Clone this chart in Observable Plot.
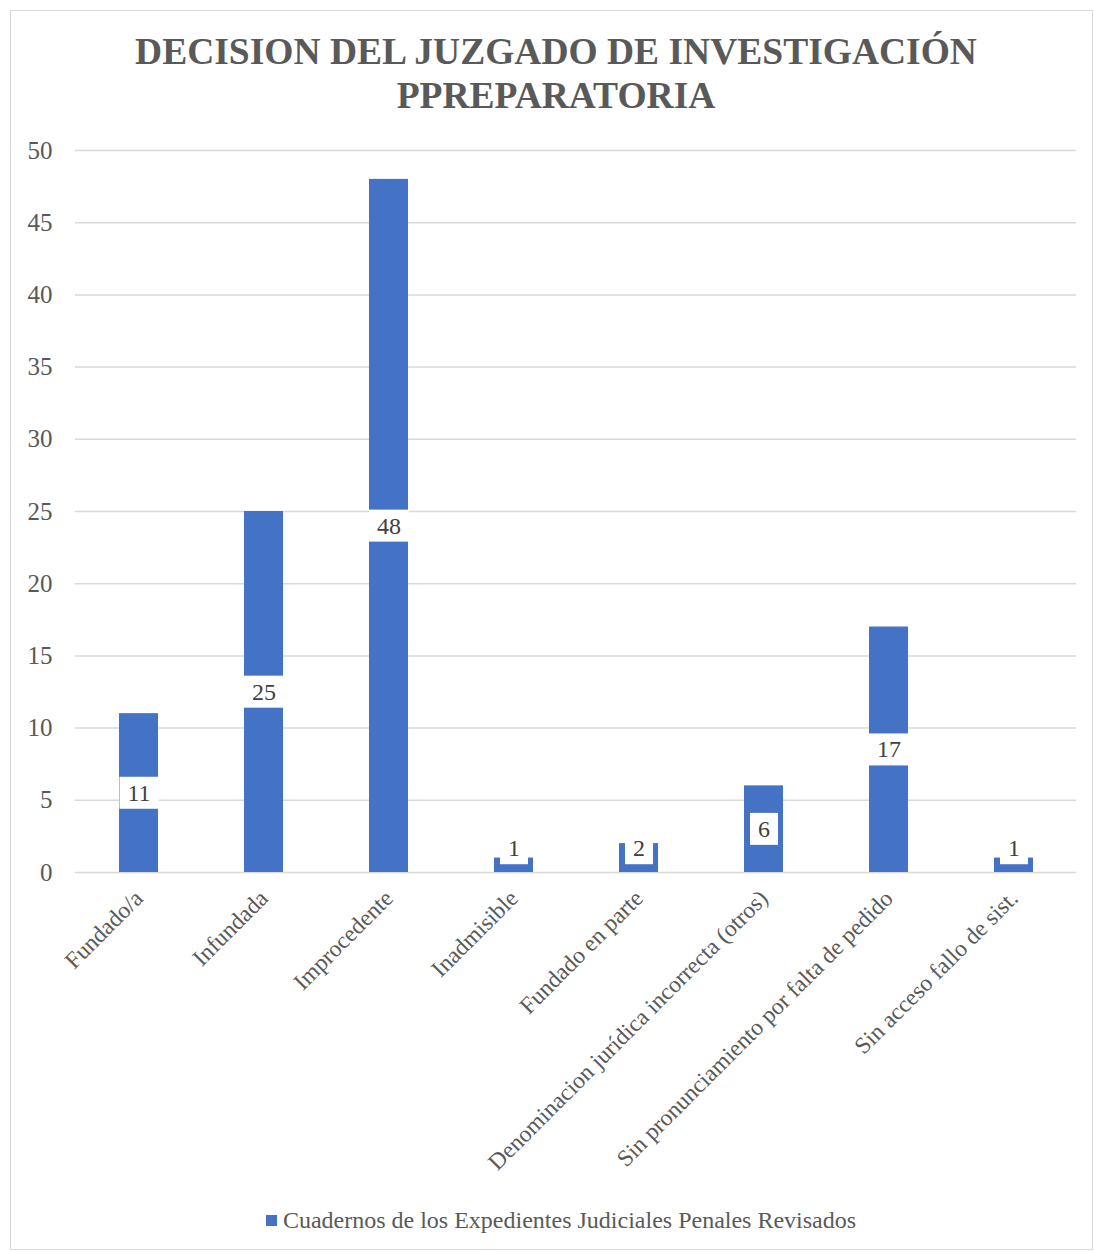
<!DOCTYPE html>
<html>
<head>
<meta charset="utf-8">
<script src="https://cdn.jsdelivr.net/npm/d3@7"></script>
<script src="https://cdn.jsdelivr.net/npm/@observablehq/plot@0.6"></script>
<style>
  html, body { margin: 0; padding: 0; background: #fff; }
  #frame { position: absolute; left: 10px; top: 10px; width: 1081px; height: 1238px; border: 1px solid #d9d9d9; }
  #title { position: absolute; left: 0; top: 30px; width: 1112px; text-align: center; font-family: "Liberation Serif", "Times New Roman", serif; font-weight: bold; font-size: 37.5px; line-height: 44px; color: #595959; }
  #chart { position: absolute; left: 0; top: 130px; }
  #legend { position: absolute; left: 0; top: 1206px; width: 1122px; text-align: center; font-family: "Liberation Serif", "Times New Roman", serif; font-size: 24px; line-height: 28px; color: #595959; }
  #legend .sw { display: inline-block; width: 11px; height: 11px; background: #4472C4; margin-right: 6px; vertical-align: 2px; }
</style>
</head>
<body>
<div id="frame"></div>
<div id="title">DECISION DEL JUZGADO DE INVESTIGACIÓN<br>PPREPARATORIA</div>
<div id="chart"></div>
<div id="legend"><span class="sw"></span>Cuadernos de los Expedientes Judiciales Penales Revisados</div>
<script>
const categories = [
  "Fundado/a",
  "Infundada",
  "Improcedente",
  "Inadmisible",
  "Fundado en parte",
  "Denominacion jurídica incorrecta (otros)",
  "Sin pronunciamiento por falta de pedido",
  "Sin acceso fallo de sist."
];
const values = [11, 25, 48, 1, 2, 6, 17, 1];
const yTicks = [0, 5, 10, 15, 20, 25, 30, 35, 40, 45, 50];
const seriesName = "Cuadernos de los Expedientes Judiciales Penales Revisados";

const data = categories.map((c, i) => ({category: c, value: values[i]}));

const chart = Plot.plot({
  width: 1094,
  height: 1060,
  marginTop: 20,
  marginBottom: 318,
  marginLeft: 75,
  marginRight: 18,
  style: {fontFamily: "'Liberation Serif', 'Times New Roman', serif", color: "#595959", background: "transparent"},
  x: {domain: categories, paddingInner: 0.69, paddingOuter: 0.345, label: null},
  y: {domain: [0, 50], label: null},
  marks: [
    Plot.gridY(yTicks, {stroke: "#d9d9d9", strokeOpacity: 1, strokeWidth: 1.5}),
    Plot.barY(data, {x: "category", y: "value", fill: "#4472C4"}),
    Plot.text(data, {x: "category", y: d => Math.max(d.value / 2, 1.66), text: d => String(d.value), fontSize: 24, fill: "#404040", className: "vlabel"}),
    Plot.axisY(yTicks, {tickSize: 0, tickPadding: 23, fontSize: 25, fill: "#595959", label: null}),
    Plot.axisX({tickSize: 0, tickPadding: 22, tickRotate: -45, fontSize: 23.5, fill: "#595959", label: null})
  ]
});
document.getElementById("chart").appendChild(chart);

// white label boxes behind value labels
chart.querySelectorAll(".vlabel text").forEach(t => {
  const b = t.getBBox();
  const r = document.createElementNS("http://www.w3.org/2000/svg", "rect");
  r.setAttribute("x", b.x - 8);
  r.setAttribute("y", b.y - 3);
  r.setAttribute("width", b.width + 16);
  r.setAttribute("height", b.height + 6);
  r.setAttribute("fill", "#ffffff");
  if (t.getAttribute("transform")) r.setAttribute("transform", t.getAttribute("transform"));
  t.parentNode.insertBefore(r, t);
});
</script>
</body>
</html>
